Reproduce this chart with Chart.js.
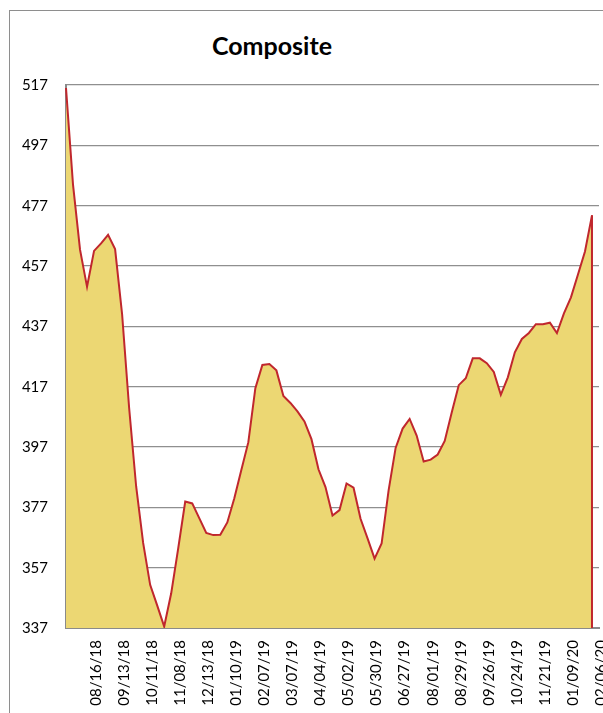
<!DOCTYPE html>
<html>
<head>
<meta charset="utf-8">
<script src="https://cdn.jsdelivr.net/npm/chart.js@4.4.1/dist/chart.umd.min.js"></script>
<style>
  html, body { margin: 0; padding: 0; background: #fff; overflow: hidden; }
  #wrap { position: relative; width: 603px; height: 713px; }
  #frame { position: absolute; left: 9px; top: 10px; width: 800px; height: 800px; border: 1px solid #8e8e8e; }
  #title { position: absolute; left: 0; top: 30px; width: 544px; text-align: center;
           font: bold 25px/30px Lato, "Open Sans", sans-serif; color: #000; }
  #chart { position: absolute; left: 0; top: 0; }
</style>
</head>
<body>
<div id="wrap">
  <div id="frame"></div>
  <div id="title">Composite</div>
  <canvas id="chart" width="603" height="713"></canvas>
</div>
<script>
// weekly dates (category axis), last one has no value
const dates = [
  "07/19/18", "07/26/18", "08/02/18", "08/09/18", "08/16/18", "08/23/18", "08/30/18", "09/06/18",
  "09/13/18", "09/20/18", "09/27/18", "10/04/18", "10/11/18", "10/18/18", "10/25/18", "11/01/18",
  "11/08/18", "11/15/18", "11/29/18", "12/06/18", "12/13/18", "12/20/18", "12/27/18", "01/03/19",
  "01/10/19", "01/17/19", "01/24/19", "01/31/19", "02/07/19", "02/14/19", "02/21/19", "02/28/19",
  "03/07/19", "03/14/19", "03/21/19", "03/28/19", "04/04/19", "04/11/19", "04/18/19", "04/25/19",
  "05/02/19", "05/09/19", "05/16/19", "05/23/19", "05/30/19", "06/06/19", "06/13/19", "06/20/19",
  "06/27/19", "07/11/19", "07/18/19", "07/25/19", "08/01/19", "08/08/19", "08/15/19", "08/22/19",
  "08/29/19", "09/05/19", "09/12/19", "09/19/19", "09/26/19", "10/03/19", "10/10/19", "10/17/19",
  "10/24/19", "10/31/19", "11/07/19", "11/14/19", "11/21/19", "12/05/19", "12/12/19", "12/19/19",
  "01/09/20", "01/16/20", "01/23/20", "01/30/20", "02/06/20"
];

const composite = [
  516, 484, 462.4, 450.1, 462, 464.5, 467.3, 462.6,
  441, 410, 384, 365.2, 351.3, 344.5, 337.5, 348.5,
  363.4, 378.9, 378.3, 373.4, 368.5, 367.8, 367.9, 372,
  380, 389.4, 398.6, 416.5, 424.2, 424.5, 422.4, 413.9,
  411.6, 408.8, 405.5, 399.6, 389.6, 383.7, 374.3, 376.1,
  384.9, 383.5, 373.2, 366.7, 360, 365, 382.6, 396.7,
  403.1, 406.3, 400.8, 392.2, 392.8, 394.5, 399, 408.4,
  417.5, 419.8, 426.4, 426.4, 424.8, 421.9, 414.3, 420.1,
  428.4, 432.8, 434.8, 437.7, 437.7, 438.2, 434.8, 441.3,
  446.6, 454.2, 461.8, 473.8, null
];

const yMin = 337;
const yMax = 517;
const yStep = 20;
const labelEvery = 4;

// area outline in Excel also drops down at the last value
const edgeLine = {
  id: 'edgeLine',
  afterDatasetsDraw(chart) {
    const meta = chart.getDatasetMeta(0);
    let last = null;
    meta.data.forEach((pt, i) => { if (composite[i] !== null) last = pt; });
    if (!last) return;
    const ctx = chart.ctx;
    ctx.save();
    ctx.strokeStyle = '#c0272d';
    ctx.lineWidth = 2;
    ctx.beginPath();
    ctx.moveTo(last.x, last.y);
    ctx.lineTo(last.x, chart.chartArea.bottom);
    ctx.stroke();
    ctx.restore();
  }
};

new Chart(document.getElementById('chart'), {
  type: 'line',
  data: {
    labels: dates,
    datasets: [{
      label: 'Composite',
      data: composite,
      borderColor: '#c0272d',
      borderWidth: 2,
      backgroundColor: '#ecd773',
      fill: 'start',
      tension: 0,
      pointRadius: 0,
      spanGaps: false
    }]
  },
  options: {
    responsive: false,
    animation: false,
    layout: { padding: { left: 0, top: 85, right: 4, bottom: 0 } },
    plugins: {
      legend: { display: false },
      tooltip: { enabled: false }
    },
    scales: {
      x: {
        grid: { display: false, drawTicks: false },
        border: { color: '#8a8a8a', width: 2 },
        afterFit(scale) {
          scale.height = 85;
          scale.paddingLeft = 0;
          scale.paddingRight = 0;
        },
        ticks: {
          autoSkip: false,
          minRotation: 90,
          maxRotation: 90,
          padding: 12,
          labelOffset: 2,
          color: '#000',
          font: { family: 'Lato', size: 15 },
          callback: function (value, index) {
            return (index > 0 && index % labelEvery === 0) ? dates[index] : '';
          }
        }
      },
      y: {
        min: yMin,
        max: yMax,
        grid: { color: '#8f8f8f', lineWidth: 1.3, drawTicks: false },
        border: { color: '#8a8a8a', width: 2 },
        afterFit(scale) { scale.width = 66; },
        ticks: {
          stepSize: yStep,
          padding: 18,
          color: '#000',
          font: { family: 'Lato', size: 15 }
        }
      }
    }
  },
  plugins: [edgeLine]
});
</script>
</body>
</html>
